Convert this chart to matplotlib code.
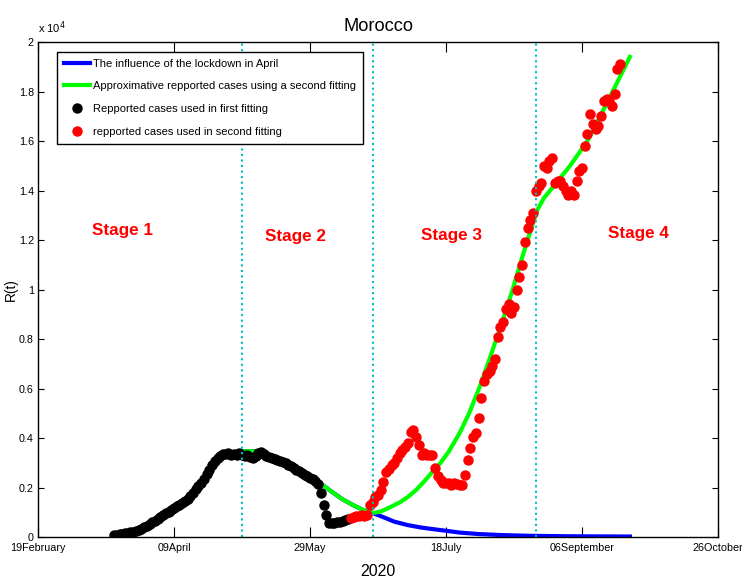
import numpy as np
import matplotlib
matplotlib.use("Agg")
import matplotlib.pyplot as plt
from matplotlib import font_manager

# days counted from 19 February 2020, values in units of 10^4
tick_days = [0, 50, 100, 150, 200, 250]
tick_labels = ['19February', '09April', '29May', '18July', '06September', '26October']
stage_days = [75, 123, 183]   # dotted separators

# reported cases, first fitting (black)
black_days = list(range(28, 115))
black_vals = [0.008, 0.010, 0.012, 0.013, 0.015, 0.017, 0.019, 0.021, 0.025, 0.029,
              0.034, 0.040, 0.046, 0.053, 0.060, 0.066, 0.073, 0.080, 0.088, 0.096,
              0.103, 0.110, 0.117, 0.124, 0.131, 0.138, 0.146, 0.155, 0.166, 0.178,
              0.192, 0.205, 0.218, 0.235, 0.255, 0.272, 0.290, 0.307, 0.318, 0.328,
              0.336, 0.334, 0.340, 0.330, 0.335, 0.332, 0.338, 0.330, 0.328, 0.333,
              0.322, 0.320, 0.326, 0.338, 0.345, 0.336, 0.328, 0.322, 0.318, 0.316,
              0.310, 0.306, 0.302, 0.298, 0.290, 0.286, 0.280, 0.272, 0.268, 0.258,
              0.252, 0.247, 0.238, 0.233, 0.225, 0.215, 0.178, 0.130, 0.090, 0.058,
              0.055, 0.058, 0.060, 0.062, 0.066, 0.070, 0.074]

# reported cases, second fitting (red)
red_days = list(range(115, 215))
red_vals = [0.078, 0.082, 0.085, 0.083, 0.088, 0.086, 0.090, 0.130, 0.140, 0.160,
            0.170, 0.190, 0.222, 0.263, 0.275, 0.290, 0.300, 0.320, 0.339, 0.350,
            0.365, 0.380, 0.425, 0.432, 0.404, 0.372, 0.331, 0.340, 0.330, 0.331,
            0.330, 0.279, 0.245, 0.230, 0.220, 0.218, 0.220, 0.212, 0.218, 0.215,
            0.210, 0.212, 0.250, 0.311, 0.360, 0.404, 0.420, 0.480, 0.560, 0.630,
            0.660, 0.670, 0.690, 0.720, 0.810, 0.850, 0.870, 0.920, 0.940, 0.905,
            0.930, 1.000, 1.050, 1.100, 1.190, 1.250, 1.280, 1.310, 1.400, 1.420,
            1.430, 1.500, 1.490, 1.520, 1.530, 1.430, 1.440, 1.440, 1.420, 1.400,
            1.380, 1.400, 1.380, 1.440, 1.480, 1.490, 1.580, 1.630, 1.710, 1.670,
            1.650, 1.660, 1.700, 1.760, 1.770, 1.760, 1.740, 1.790, 1.890, 1.910]

# second fitting curve (green)
green_days = [28, 35, 41, 47, 53, 57, 60, 63, 66, 69, 73, 77, 81, 85, 90, 95, 100,
              104, 108, 112, 116.5, 120, 123, 126, 129, 133, 136, 139, 142, 145,
              148, 151, 155, 158.5, 162.5, 166.5, 171, 174.5, 178, 181, 183.5,
              186, 189, 195.6, 202, 209, 217.6]
green_vals = [0.005, 0.020, 0.050, 0.090, 0.135, 0.170, 0.210, 0.260, 0.300, 0.330,
              0.343, 0.347, 0.345, 0.330, 0.305, 0.280, 0.245, 0.215, 0.183, 0.152,
              0.125, 0.107, 0.097, 0.103, 0.118, 0.140, 0.162, 0.190, 0.225, 0.263,
              0.300, 0.345, 0.420, 0.500, 0.610, 0.735, 0.880, 1.000, 1.130, 1.235,
              1.320, 1.370, 1.410, 1.500, 1.600, 1.750, 1.940]

# lockdown influence curve (blue), follows green until day 123
blue_tail_days = [127, 131, 136, 141, 148, 155, 162, 170, 180, 195, 217.6]
blue_tail_vals = [0.080, 0.062, 0.048, 0.038, 0.028, 0.018, 0.012, 0.008, 0.005, 0.003, 0.002]
blue_days = green_days[:23] + blue_tail_days
blue_vals = green_vals[:23] + blue_tail_vals

stage_names = ['Stage 1', 'Stage 2', 'Stage 3', 'Stage 4']
stage_x = [31, 94.5, 152, 220.6]
stage_y = [1.24, 1.215, 1.22, 1.225]

# look for a narrow sans font, otherwise Liberation Sans
names = set(f.name for f in font_manager.fontManager.ttflist)
narrow_ok = False
for fam in ['Liberation Sans Narrow', 'Arial Narrow', 'DejaVu Sans Condensed']:
    if fam in names:
        font = fam
        narrow_ok = True
        break
else:
    font = 'Liberation Sans'
plt.rcParams['font.family'] = [font, 'DejaVu Sans']
k = 1.0 if narrow_ok else 0.82   # shrink a wider font

fig = plt.figure(figsize=(7.42, 5.81), dpi=100)
ax = fig.add_axes([0.0512, 0.0757, 0.9165, 0.852])

ax.plot(blue_days, blue_vals, '-', color='blue', lw=3, label='The influence of the lockdown in April')
ax.plot(green_days, green_vals, '-', color='#00ff00', lw=3,
        label='Approximative repported cases using a second fitting')
ax.plot(black_days, black_vals, 'o', color='black', ms=6.5, mec='black',
        label='Repported cases used in first fitting')
ax.plot(red_days, red_vals, 'o', color='red', ms=6.5, mec='red',
        label='repported cases used in second fitting')

for d in stage_days:
    ax.axvline(d, color='#00bfbf', ls=':', lw=1.5)

for name, x, y in zip(stage_names, stage_x, stage_y):
    ax.text(x, y, name, color='red', fontsize=15 * k, fontweight='bold', ha='center', va='center')

ax.set_xlim(0, 250)
ax.set_ylim(0, 2)
ax.set_xticks(tick_days)
ax.set_xticklabels(tick_labels, fontsize=9.5 * k)
ax.set_yticks(np.arange(0, 2.01, 0.2))
ax.set_yticklabels(['0', '0.2', '0.4', '0.6', '0.8', '1', '1.2', '1.4', '1.6', '1.8', '2'],
                   fontsize=9.5 * k)
ax.tick_params(axis='x', direction='in', top=True, length=7, width=0.8, pad=4)
ax.tick_params(axis='y', direction='in', right=True, length=4.5, width=0.8, pad=3)
for s in ax.spines.values():
    s.set_linewidth(1)

ax.set_title('Morocco', fontsize=16 * k, pad=8)
ax.set_xlabel('2020', fontsize=14 * k, labelpad=8)
ax.set_ylabel('R(t)', fontsize=12 * k)
ax.yaxis.set_label_coords(-0.03, 0.5)
ax.text(0.0, 1.012, 'x 10$^4$', transform=ax.transAxes, fontsize=8, ha='left', va='bottom')

leg = ax.legend(loc='upper left', bbox_to_anchor=(0.028, 0.98), borderaxespad=0,
                fontsize=8, fancybox=False, edgecolor='black', framealpha=1,
                handlelength=2.35, labelspacing=1.15, borderpad=0.6, handletextpad=0.3)
leg.get_frame().set_linewidth(1)

fig.savefig('out.png', dpi=100)
